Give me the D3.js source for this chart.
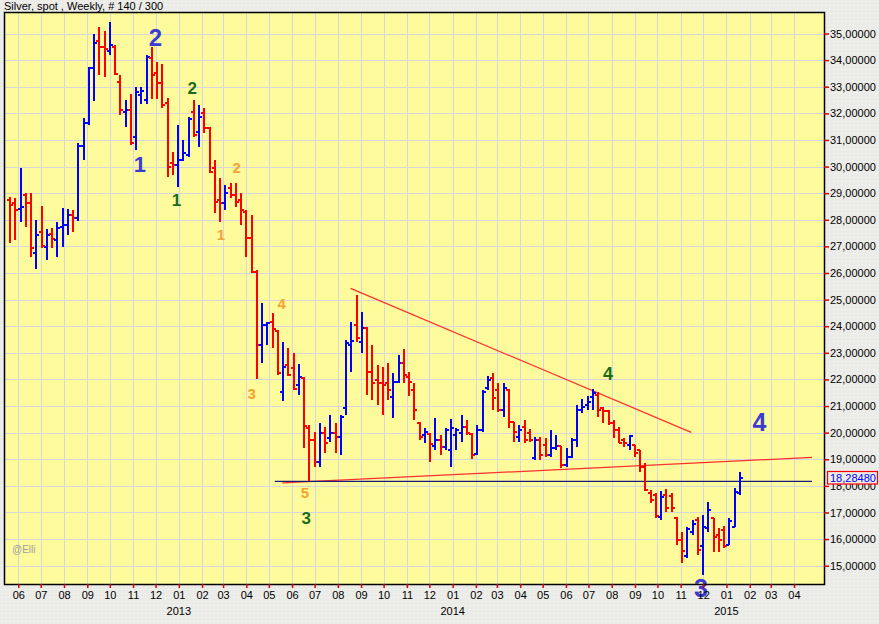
<!DOCTYPE html>
<html><head><meta charset="utf-8">
<script src="https://cdn.jsdelivr.net/npm/d3@7"></script>
<style>html,body{margin:0;padding:0;background:#ebebe7;} svg{display:block;}</style>
</head><body>
<svg id="c" width="879" height="624"></svg>
<script>
// ---- data ----
const title = "Silver, spot , Weekly, # 140 / 300";
const firstWeek = "2012-05-21"; // weekly bars, one per week
const barOpen = [28.74,28.63,28.39,28.93,28.63,26.75,27.54,26.98,27.46,27.24,
27.73,27.80,28.18,28.07,30.77,31.62,33.69,34.73,34.50,34.35,
34.50,33.19,32.06,32.12,31.12,32.69,32.50,34.07,33.50,33.13,
32.38,30.12,30.06,30.25,30.43,32.06,31.31,32.00,31.44,29.93,
28.74,28.62,29.18,28.93,28.74,28.29,27.30,26.05,23.29,24.05,
24.17,23.82,21.54,22.54,22.42,21.79,22.05,20.17,19.72,18.91,
19.98,19.80,19.98,19.84,20.91,23.29,24.05,23.42,23.92,22.29,
21.98,21.85,21.87,21.35,21.91,22.61,22.10,21.60,20.36,19.91,
19.95,19.50,19.72,19.47,19.35,19.91,19.99,20.22,19.95,19.20,
20.10,21.68,22.04,21.60,20.85,21.60,20.41,19.85,20.22,19.98,
19.04,19.72,19.54,19.16,19.42,19.50,18.78,19.10,19.72,20.85,
21.04,21.35,21.41,20.93,20.81,20.36,20.10,19.72,19.54,19.54,
19.35,18.72,17.73,17.66,16.84,17.66,17.62,16.79,15.97,15.36,
16.27,16.72,15.74,16.42,16.78,16.15,16.34,15.78,16.47,17.73];
const barHigh = [28.87,28.83,29.93,29.01,29.02,27.99,28.52,27.64,27.68,27.90,
28.43,28.39,28.37,30.90,31.81,33.75,34.98,35.23,35.10,35.44,
34.57,33.44,32.50,32.73,33.00,33.00,34.19,34.48,33.92,33.85,
32.56,30.56,31.56,31.00,31.86,32.50,32.31,32.19,31.50,30.25,
29.56,29.31,29.39,29.39,28.99,28.37,28.18,26.11,24.88,24.17,
24.48,23.86,23.42,23.17,22.98,22.57,22.10,20.29,20.04,20.35,
20.22,20.66,20.35,20.66,23.48,24.17,25.17,24.54,23.98,23.29,
22.54,22.48,22.61,22.23,22.92,23.13,22.29,21.85,20.41,20.16,
19.98,20.54,19.91,20.16,20.50,20.16,20.66,20.47,19.98,20.29,
21.60,22.13,22.23,21.85,21.85,21.63,20.41,20.29,20.47,20.13,
19.85,19.85,19.79,20.10,19.91,19.50,19.41,19.79,21.04,21.25,
21.38,21.63,21.54,20.97,20.85,20.47,20.22,19.79,19.91,19.54,
19.35,18.86,17.84,17.73,17.82,17.87,17.73,16.84,16.28,16.47,
16.72,16.84,16.90,17.40,16.78,16.40,16.49,16.79,17.92,18.52];
const barLow = [27.12,27.24,27.93,27.73,26.59,26.14,26.93,26.49,26.93,26.61,
26.96,27.43,27.55,27.95,30.25,31.56,32.47,33.44,33.35,34.19,
33.44,31.94,31.50,30.81,30.62,32.35,32.35,32.53,32.53,32.19,
29.62,29.68,29.24,30.21,30.37,31.12,30.75,31.25,29.75,28.24,
27.93,28.37,28.81,28.49,27.80,26.61,25.99,22.00,22.63,23.29,
23.17,22.17,21.20,22.13,21.60,21.41,19.41,18.19,18.72,18.72,
19.22,19.66,19.22,19.16,20.66,22.29,23.42,22.98,21.41,21.23,
21.04,20.66,21.23,20.54,21.87,21.88,21.38,20.47,19.72,19.60,
18.91,19.35,19.16,19.35,18.70,19.35,19.66,19.91,19.00,19.16,
20.04,21.60,20.85,20.79,20.60,20.16,19.66,19.66,19.60,19.66,
18.97,18.97,19.10,19.10,19.35,18.66,18.72,19.04,19.47,20.73,
20.85,20.85,20.60,20.35,20.29,19.79,19.60,19.47,19.35,19.10,
18.53,17.82,17.37,16.79,16.72,17.03,17.03,15.78,15.09,15.28,
16.15,15.40,14.65,16.28,15.53,15.53,15.66,15.78,16.45,17.66];
const barClose = [28.55,28.37,28.49,28.63,26.94,27.43,27.01,27.43,27.28,27.68,
27.80,28.18,28.07,30.77,31.62,33.69,34.63,34.50,34.41,34.57,
33.47,32.12,32.12,30.90,32.81,32.84,34.13,33.44,33.15,32.31,
29.99,30.06,30.25,30.50,31.78,31.19,31.87,31.44,29.81,28.68,
28.64,28.99,28.93,28.68,28.37,27.30,26.05,23.29,24.05,24.13,
23.88,22.24,22.46,22.17,21.63,22.10,20.25,19.72,18.91,19.98,
19.60,19.98,19.84,20.60,23.36,23.44,23.55,23.92,22.29,21.85,
21.85,21.79,21.60,21.91,22.61,22.17,21.91,20.85,19.85,20.04,
19.57,19.72,19.47,20.10,20.16,20.10,20.21,19.98,19.16,20.10,
21.53,21.98,21.30,20.85,21.67,20.41,20.04,20.10,19.72,19.72,
19.72,19.16,19.16,19.42,19.50,18.78,19.10,19.72,20.85,20.97,
21.16,21.48,20.85,20.81,20.35,20.10,19.61,19.60,19.87,19.22,
18.72,17.84,17.47,16.87,17.59,17.17,17.16,15.97,15.55,16.38,
16.57,15.59,16.47,17.09,16.09,15.97,15.74,16.68,17.77,18.2848];
const priceTicks = [15,16,17,18,19,20,21,22,23,24,25,26,27,28,29,30,31,32,33,34,35];
const yearLabels = [["2013-01-01","2013"],["2014-01-01","2014"],["2015-01-01","2015"]];
const lastValue = 18.2848;
const trendLines = [
  {from:"2013-08-18", v1:25.42, to:"2014-11-15", v2:20.01, color:"#ff3030"},
  {from:"2013-05-19", v1:18.11, to:"2015-04-25", v2:19.07, color:"#ff3030"},
  {from:"2013-05-09", v1:18.17, to:"2015-04-25", v2:18.17, color:"#1c1c78"}
];
const waveLabels = [
  {t:"2", d:"2012-12-01", v:34.87, c:"#3b3bd4", s:24, w:"bold"},
  {t:"1", d:"2012-11-10", v:30.08, c:"#3b3bd4", s:22, w:"bold"},
  {t:"2", d:"2013-01-19", v:32.97, c:"#1c6b1c", s:17, w:"bold"},
  {t:"1", d:"2012-12-29", v:28.76, c:"#1c6b1c", s:17, w:"bold"},
  {t:"2", d:"2013-03-19", v:29.96, c:"#f5a431", s:15, w:"bold"},
  {t:"1", d:"2013-02-26", v:27.43, c:"#f5a431", s:15, w:"bold"},
  {t:"4", d:"2013-05-18", v:24.85, c:"#f5a431", s:15, w:"bold"},
  {t:"3", d:"2013-04-08", v:21.47, c:"#f5a431", s:15, w:"bold"},
  {t:"5", d:"2013-06-18", v:17.75, c:"#f5a431", s:15, w:"bold"},
  {t:"3", d:"2013-06-20", v:16.79, c:"#1c6b1c", s:17, w:"bold"},
  {t:"4", d:"2014-07-27", v:22.22, c:"#1c6b1c", s:18, w:"bold"},
  {t:"4", d:"2015-02-14", v:20.40, c:"#3b3bd4", s:25, w:"bold"},
  {t:"3", d:"2014-11-28", v:14.16, c:"#3b3bd4", s:25, w:"bold"}
];

// ---- chart ----
const W = 879, H = 624;
const L = 4, R = 824, T = 12, B = 584;
const font = "'Liberation Sans', Arial, sans-serif";
const parse = d3.utcParse("%Y-%m-%d");
const svg = d3.select("#c").attr("font-family", font);

const defs = svg.append("defs");
const pat = defs.append("pattern").attr("id","dots").attr("width",4).attr("height",4).attr("patternUnits","userSpaceOnUse");
pat.append("rect").attr("width",4).attr("height",4).attr("fill","#ebebe7");
pat.append("rect").attr("x",1).attr("y",1).attr("width",1).attr("height",1).attr("fill","#f7f7f5");
defs.append("clipPath").attr("id","plotclip").append("rect").attr("x",L).attr("y",T).attr("width",R-L).attr("height",B-T);

svg.append("rect").attr("width",W).attr("height",H).attr("fill","url(#dots)");

const x = d3.scaleUtc().domain([Date.UTC(2012,4,13), Date.UTC(2015,4,11)]).range([L, R]);
const y = d3.scaleLinear().domain([14.312, 35.808]).range([B, T]);

svg.append("rect").attr("x",L).attr("y",T).attr("width",R-L).attr("height",B-T).attr("fill","#fdfb9c");

const months = d3.utcMonth.range(Date.UTC(2012,5,1), Date.UTC(2015,3,2));

// grid
const grid = svg.append("g").attr("shape-rendering","crispEdges").attr("stroke","#d6d6dc").attr("stroke-width",1);
grid.selectAll("line.v").data(months).join("line").attr("class","v")
  .attr("x1", d => Math.round(x(d))+0.5).attr("x2", d => Math.round(x(d))+0.5).attr("y1",T).attr("y2",B);
grid.selectAll("line.h").data(priceTicks).join("line").attr("class","h")
  .attr("y1", d => Math.round(y(d))+0.5).attr("y2", d => Math.round(y(d))+0.5).attr("x1",L).attr("x2",R);

const plot = svg.append("g").attr("clip-path","url(#plotclip)");

// trend lines
plot.selectAll("line.trend").data(trendLines).join("line").attr("class","trend")
  .attr("x1", d => x(parse(d.from))).attr("y1", d => y(d.v1))
  .attr("x2", d => x(parse(d.to))).attr("y2", d => y(d.v2))
  .attr("stroke", d => d.color).attr("stroke-width", 1.2);

// bars
const start = parse(firstWeek);
const bars = barOpen.map((o,i) => ({d: d3.utcDay.offset(start, 7*i), o, h: barHigh[i], l: barLow[i], c: barClose[i]}));
plot.append("g").attr("shape-rendering","crispEdges").selectAll("path").data(bars).join("path")
  .attr("fill","none").attr("stroke-width",2)
  .attr("stroke", d => d.c >= d.o ? "#0000ff" : "#ff0000")
  .attr("d", d => {
    const cx = Math.round(x(d.d));
    return `M${cx},${y(d.h)}V${y(d.l)}M${cx-3},${Math.round(y(d.o))}H${cx}M${cx},${Math.round(y(d.c))}H${cx+3}`;
  });

// wave labels
svg.append("g").selectAll("text").data(waveLabels).join("text")
  .attr("x", d => x(parse(d.d))).attr("y", d => y(d.v)).attr("dy","0.36em")
  .attr("text-anchor","middle").attr("fill", d => d.c)
  .attr("font-size", d => d.s).attr("font-weight", d => d.w).text(d => d.t);

// border
svg.append("rect").attr("x",L+0.5).attr("y",T+0.5).attr("width",R-L).attr("height",B-T)
  .attr("fill","none").attr("stroke","#000").attr("stroke-width",1.5);

// bottom axis
const xAxis = svg.append("g").attr("transform",`translate(0,${B})`)
  .call(d3.axisBottom(x).tickValues(months).tickSize(4).tickPadding(3).tickFormat(d3.utcFormat("%m")));
xAxis.select(".domain").remove();
xAxis.selectAll(".tick line").attr("stroke","#e00000").attr("stroke-width",1.5);
xAxis.selectAll("text").attr("font-size",11).attr("fill","#000").attr("font-family",font);

svg.append("g").selectAll("text").data(yearLabels).join("text")
  .attr("x", d => x(parse(d[0]))).attr("y", 614.5).attr("text-anchor","middle")
  .attr("font-size",11).attr("fill","#000").text(d => d[1]);

// right axis
const fmt = v => d3.format(".5f")(v).replace(".", ",");
const yAxis = svg.append("g").attr("transform",`translate(${R},0)`)
  .call(d3.axisRight(y).tickValues(priceTicks).tickSize(5).tickPadding(1).tickFormat(fmt));
yAxis.select(".domain").remove();
yAxis.selectAll(".tick line").attr("stroke","#e00000").attr("stroke-width",1.5);
yAxis.selectAll("text").attr("font-size",11).attr("fill","#000").attr("font-family",font);

// last value box
const ly = y(lastValue);
svg.append("rect").attr("x",827.5).attr("y",Math.round(ly)-6.5).attr("width",50).attr("height",12.5)
  .attr("fill","#ebebe7").attr("stroke","#ff0000").attr("stroke-width",1.2);
svg.append("text").attr("x",830).attr("y",ly).attr("dy","0.36em").attr("font-size",11)
  .attr("fill","#0000ff").text(fmt(lastValue));

// title and watermark
svg.append("text").attr("x",4).attr("y",9.5).attr("font-size",11).attr("fill","#000").text(title);
svg.append("text").attr("x",12).attr("y",553).attr("font-size",10).attr("fill","#a0a0a0").text("@Elli");
</script>
</body></html>
